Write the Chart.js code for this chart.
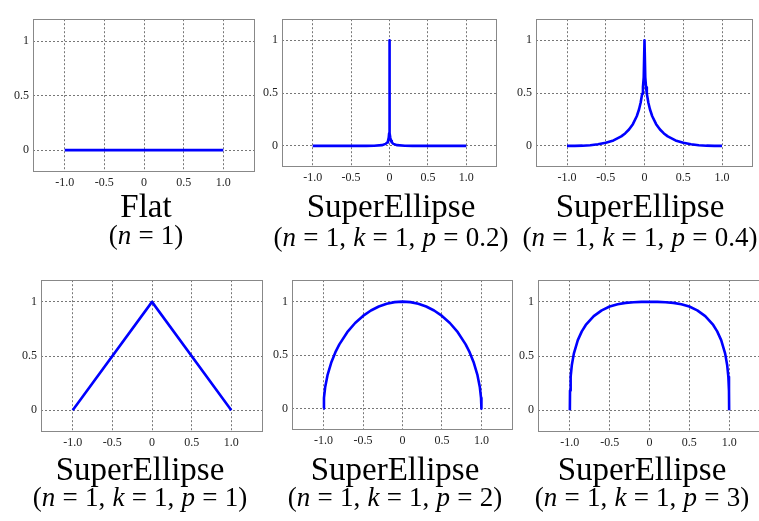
<!DOCTYPE html>
<html>
<head>
<meta charset="utf-8">
<script src="https://cdn.jsdelivr.net/npm/chart.js@4.4.0/dist/chart.umd.min.js"></script>
<style>
  html, body { margin: 0; padding: 0; background: #fff; }
  body { width: 759px; height: 521px; position: relative; overflow: hidden; }
  canvas { position: absolute; }
  .title, .sub {
    position: absolute;
    font-family: "Liberation Serif", "Times New Roman", serif;
    color: #000;
    white-space: pre;
    transform: translateX(-50%);
  }
  .title { font-size: 33px; line-height: 33px; }
  .sub { font-size: 27px; line-height: 27px; word-spacing: 0.5px; }
</style>
</head>
<body>
<script>
// axis ticks shared by every panel
var xTicks = [-1, -0.5, 0, 0.5, 1];
var xTickLabels = ['-1.0', '-0.5', '0', '0.5', '1.0'];
var yTicks = [0, 0.5, 1];
var yTickLabels = ['0', '0.5', '1'];

// curve samples, one pair of arrays per panel
var flatX = [-1, 1];
var flatY = [0, 0];

var p02X = [-1, -0.6, -0.3, -0.2, -0.1, -0.05, -0.03, -0.02, -0.01, -0.005, -0.002, 0,
            0.005, 0.01, 0.02, 0.03, 0.05, 0.1, 0.2, 0.3, 0.6, 1];
var p02Y = [0, 0, 0.0005, 0.0016, 0.007, 0.019, 0.033, 0.047, 0.079, 0.119, 0.6, 1,
            0.119, 0.079, 0.047, 0.033, 0.019, 0.007, 0.0016, 0.0005, 0, 0];

var p04X = [-1, -0.9, -0.8, -0.7, -0.6, -0.5, -0.4, -0.3, -0.25, -0.2, -0.15, -0.1, -0.07, -0.05, -0.03, -0.02, -0.01, 0,
            0.01, 0.02, 0.03, 0.05, 0.07, 0.1, 0.15, 0.2, 0.25, 0.3, 0.4, 0.5, 0.6, 0.7, 0.8, 0.9, 1];
var p04Y = [0, 0.0003, 0.002, 0.006, 0.015, 0.029, 0.052, 0.090, 0.118, 0.155, 0.206, 0.281, 0.347, 0.408, 0.494, 0.556, 0.650, 1,
            0.650, 0.556, 0.494, 0.408, 0.347, 0.281, 0.206, 0.155, 0.118, 0.090, 0.052, 0.029, 0.015, 0.006, 0.002, 0.0003, 0];

var p1X = [-1, 0, 1];
var p1Y = [0, 1, 0];

var p2X = [-1, -0.995, -0.98, -0.95, -0.9, -0.85, -0.8, -0.7, -0.6, -0.5, -0.4, -0.3, -0.2, -0.1, 0,
           0.1, 0.2, 0.3, 0.4, 0.5, 0.6, 0.7, 0.8, 0.85, 0.9, 0.95, 0.98, 0.995, 1];
var p2Y = [0, 0.100, 0.199, 0.312, 0.436, 0.527, 0.600, 0.714, 0.800, 0.866, 0.917, 0.954, 0.980, 0.995, 1,
           0.995, 0.980, 0.954, 0.917, 0.866, 0.800, 0.714, 0.600, 0.527, 0.436, 0.312, 0.199, 0.100, 0];

var p3X = [-1, -0.998, -0.99, -0.975, -0.95, -0.9, -0.85, -0.8, -0.7, -0.6, -0.5, -0.4, -0.3, -0.2, -0.1, 0,
           0.1, 0.2, 0.3, 0.4, 0.5, 0.6, 0.7, 0.8, 0.85, 0.9, 0.95, 0.975, 0.99, 0.998, 1];
var p3Y = [0, 0.182, 0.310, 0.418, 0.523, 0.647, 0.728, 0.787, 0.869, 0.922, 0.957, 0.978, 0.991, 0.997, 1.000, 1,
           1.000, 0.997, 0.991, 0.978, 0.957, 0.922, 0.869, 0.787, 0.728, 0.647, 0.523, 0.418, 0.310, 0.182, 0];

// captions
var titles = ['Flat', 'SuperEllipse', 'SuperEllipse', 'SuperEllipse', 'SuperEllipse', 'SuperEllipse'];
var paramN = [1, 1, 1, 1, 1, 1];
var paramK = [null, 1, 1, 1, 1, 1];
var paramP = [null, 0.2, 0.4, 1, 2, 3];

var curves = [[flatX, flatY], [p02X, p02Y], [p04X, p04Y], [p1X, p1Y], [p2X, p2Y], [p3X, p3Y]];

// plot area of each panel on the page, and where its captions sit
var boxes = [
  { left: 33, top: 10, right: 255, bottom: 172 },
  { left: 282, top: 10, right: 497, bottom: 167 },
  { left: 536, top: 10, right: 753, bottom: 167 },
  { left: 41, top: 271, right: 263, bottom: 432 },
  { left: 292, top: 271, right: 513, bottom: 430 },
  { left: 538, top: 271, right: 761, bottom: 432 }
];
var captionPos = [
  { cx: 146, t: 189.5, s: 222 },
  { cx: 391, t: 189.5, s: 223.5 },
  { cx: 640, t: 189.5, s: 223.5 },
  { cx: 140, t: 453, s: 483.5 },
  { cx: 395, t: 453, s: 483.5 },
  { cx: 642, t: 453, s: 483.5 }
];

var AXIS_W = 36, AXIS_H = 24, PAD = 2;

// grey box round the plot area
var framePlugin = {
  id: 'frame',
  beforeDatasetsDraw: function (chart) {
    var a = chart.chartArea, ctx = chart.ctx;
    ctx.save();
    ctx.strokeStyle = '#888';
    ctx.lineWidth = 1;
    ctx.strokeRect(Math.round(a.left) + 0.5, Math.round(a.top) + 0.5,
                   Math.round(a.right - a.left) - 1, Math.round(a.bottom - a.top) - 1);
    ctx.restore();
  }
};

function tickFont() {
  return { family: '"Liberation Serif", "Times New Roman", serif', size: 12 };
}

function makeChart(i) {
  var b = boxes[i];
  var canvas = document.createElement('canvas');
  var w = b.right - b.left + AXIS_W + PAD;
  var h = b.bottom - b.top + AXIS_H + PAD;
  canvas.width = w;
  canvas.height = h;
  canvas.style.left = (b.left - AXIS_W) + 'px';
  canvas.style.top = (b.top - PAD) + 'px';
  document.body.appendChild(canvas);

  var xs = curves[i][0], ys = curves[i][1];
  var pts = xs.map(function (x, j) { return { x: x, y: ys[j] }; });

  new Chart(canvas.getContext('2d'), {
    type: 'scatter',
    data: {
      datasets: [{
        data: pts,
        showLine: true,
        borderColor: '#0000ff',
        borderWidth: 2.6,
        pointRadius: 0,
        borderJoinStyle: 'round',
        tension: 0
      }]
    },
    options: {
      responsive: false,
      animation: false,
      layout: { padding: { top: PAD, right: PAD, left: 0, bottom: 0 } },
      plugins: { legend: { display: false }, tooltip: { enabled: false } },
      scales: {
        x: {
          type: 'linear',
          min: -1.4,
          max: 1.4,
          afterBuildTicks: function (s) { s.ticks = xTicks.map(function (v) { return { value: v }; }); },
          afterFit: function (s) { s.height = AXIS_H; },
          ticks: {
            maxRotation: 0,
            autoSkip: false,
            padding: 4,
            color: '#222',
            font: tickFont(),
            callback: function (v) { return xTickLabels[xTicks.indexOf(v)]; }
          },
          grid: { color: '#777', lineWidth: 1, drawTicks: false },
          border: { display: false, dash: [2, 2] }
        },
        y: {
          type: 'linear',
          min: -0.2,
          max: 1.2,
          afterBuildTicks: function (s) { s.ticks = yTicks.map(function (v) { return { value: v }; }); },
          afterFit: function (s) { s.width = AXIS_W; },
          ticks: {
            padding: 4,
            color: '#222',
            font: tickFont(),
            callback: function (v) { return yTickLabels[yTicks.indexOf(v)]; }
          },
          grid: { color: '#777', lineWidth: 1, drawTicks: false },
          border: { display: false, dash: [2, 2] }
        }
      }
    },
    plugins: [framePlugin]
  });

  // captions under the panel
  var c = captionPos[i];
  var t = document.createElement('div');
  t.className = 'title';
  t.textContent = titles[i];
  t.style.left = c.cx + 'px';
  t.style.top = c.t + 'px';
  document.body.appendChild(t);

  var parts = ['<i>n</i> = ' + paramN[i]];
  if (paramK[i] !== null) parts.push('<i>k</i> = ' + paramK[i]);
  if (paramP[i] !== null) parts.push('<i>p</i> = ' + paramP[i]);
  var s = document.createElement('div');
  s.className = 'sub';
  s.innerHTML = '(' + parts.join(', ') + ')';
  s.style.left = c.cx + 'px';
  s.style.top = c.s + 'px';
  document.body.appendChild(s);
}

for (var i = 0; i < boxes.length; i++) makeChart(i);
</script>
</body>
</html>
